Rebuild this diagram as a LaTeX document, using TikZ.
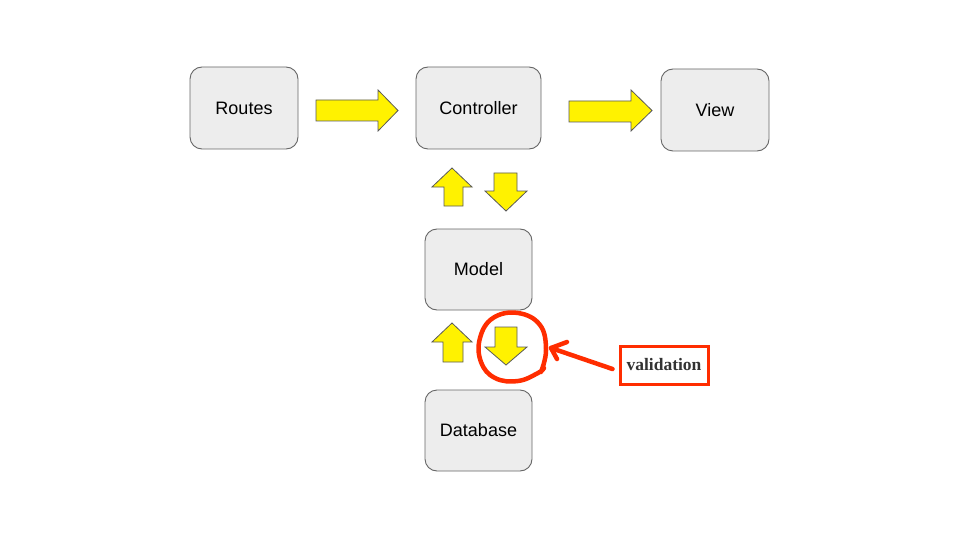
\documentclass[tikz,border=0pt]{standalone}
\usepackage{fontspec}
\setmainfont{Liberation Sans}
\newfontfamily\serifb{Liberation Serif}
\definecolor{annot}{RGB}{255,45,0}
\begin{document}
\begin{tikzpicture}[x=1pt,y=-1pt,
  box/.style={draw=black!60,fill=black!7,rounded corners=12pt,line width=0.9pt,font=\fontsize{18}{21}\selectfont,inner sep=0pt},
  blockarrow/.style={draw=black!65,fill=yellow,line width=0.8pt,line join=miter},
  redline/.style={draw=annot,line width=4.5pt,line cap=round,line join=round}]
\useasboundingbox (0,0) rectangle (960,540);
\fill[white] (0,0) rectangle (960,540);
\node[box,minimum width=108pt,minimum height=82pt] (routes) at (244,108) {Routes};
\node[box,minimum width=125pt,minimum height=82pt] (ctrl) at (478.5,108) {Controller};
\node[box,minimum width=108pt,minimum height=82pt] (view) at (715,110) {View};
\node[box,minimum width=107pt,minimum height=81pt] (model) at (478.5,269.5) {Model};
\node[box,minimum width=107pt,minimum height=81pt] (db) at (478.5,430.5) {Database};
% horizontal block arrows
\path[blockarrow] (316,100) -- (378,100) -- (378,90) -- (398,110.5) -- (378,131) -- (378,121) -- (316,121) -- cycle;
\path[blockarrow] (569,101) -- (631,101) -- (631,90) -- (652,110.5) -- (631,131) -- (631,122) -- (569,122) -- cycle;
% vertical block arrows (controller/model)
\path[blockarrow] (444,206) -- (444,187) -- (432,187) -- (452,168) -- (472,187) -- (463,187) -- (463,206) -- cycle;
\path[blockarrow] (494,173) -- (517,173) -- (517,191) -- (527,191) -- (506,211) -- (485,191) -- (494,191) -- cycle;
% vertical block arrows (model/database)
\path[blockarrow] (443,362) -- (443,342) -- (432,342) -- (452,323) -- (472,342) -- (463,342) -- (463,362) -- cycle;
\path[blockarrow] (495,327) -- (517,327) -- (517,347) -- (527,347) -- (506,365) -- (485,347) -- (495,347) -- cycle;
% validation annotation
\node[draw=annot,line width=3pt,minimum width=88pt,minimum height=38pt,inner sep=0pt,text=black!80,font=\serifb\bfseries\fontsize{17.5}{20}\selectfont] (val) at (664,365) {validation};
\coordinate (tip) at (551,348);
\draw[redline] plot[smooth,tension=0.7] coordinates {(541,372) (546,350) (540,325) (518,313) (493,318) (480,338) (481,362) (495,378) (518,381) (538,373) (544,368)};
\draw[redline] ([xshift=-6pt,yshift=-4pt]val.west) -- (tip);
\draw[redline] (567,342) -- (tip) -- (557,359);
\end{tikzpicture}
\end{document}
